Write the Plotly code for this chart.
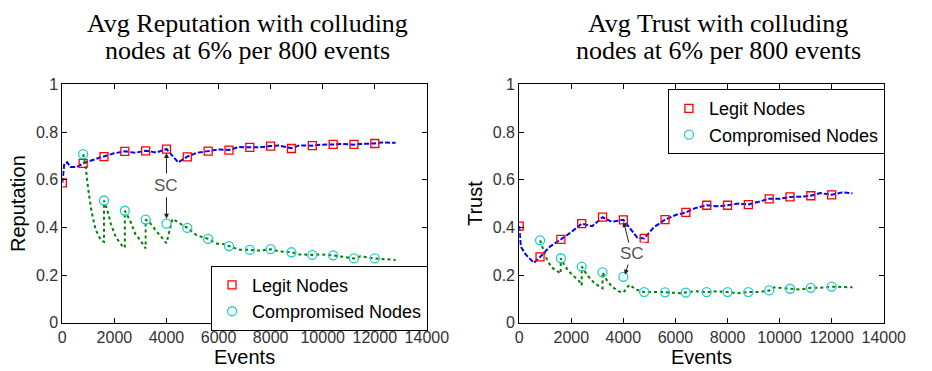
import plotly.graph_objects as go

# ---------------- data ----------------
marker_events = [0, 800, 1600, 2400, 3200, 4000, 4800, 5600, 6400, 7200, 8000,
                 8800, 9600, 10400, 11200, 12000]
comp_marker_events = marker_events[1:]

# Left panel: Reputation
rep_legit_markers = [0.587, 0.669, 0.697, 0.719, 0.721, 0.728, 0.696, 0.720, 0.724,
                     0.736, 0.741, 0.731, 0.743, 0.748, 0.748, 0.752]
rep_comp_markers = [0.707, 0.513, 0.470, 0.433, 0.416, 0.398, 0.352, 0.322, 0.306,
                    0.309, 0.296, 0.285, 0.283, 0.270, 0.270]

rep_legit_line_x = [0, 75, 190, 310, 560, 800, 1200, 1600, 1950, 2400, 2800, 3200,
                    3600, 4000, 4230, 4450, 4800, 5160, 5600, 6030, 6400, 6780, 7200,
                    7590, 8000, 8300, 8800, 9100, 9600, 9900, 10400, 10700, 11200,
                    11450, 12000, 12250, 12800]
rep_legit_line_y = [0.587, 0.667, 0.673, 0.653, 0.653, 0.669, 0.684, 0.699, 0.710,
                    0.719, 0.713, 0.722, 0.714, 0.729, 0.700, 0.673, 0.697, 0.713,
                    0.720, 0.727, 0.725, 0.737, 0.736, 0.736, 0.741, 0.744, 0.732,
                    0.744, 0.743, 0.747, 0.748, 0.750, 0.747, 0.750, 0.752, 0.756,
                    0.755]

rep_comp_line_x = [800, 900, 995, 1120, 1280, 1490, 1600, 1600, 1740, 1870, 2050,
                   2300, 2400, 2400, 2610, 2800, 2990, 3170, 3200, 3200, 3360, 3550,
                   3800, 3990, 4000, 4230, 4480, 4800, 5160, 5600, 5900, 6160, 6400,
                   6780, 7000, 7200, 7590, 8000, 8330, 8800, 9100, 9600, 9900, 10400,
                   10700, 11200, 11450, 12000, 12800]
rep_comp_line_y = [0.707, 0.653, 0.560, 0.467, 0.390, 0.345, 0.340, 0.513, 0.467,
                   0.413, 0.360, 0.323, 0.315, 0.470, 0.427, 0.373, 0.347, 0.318,
                   0.312, 0.433, 0.420, 0.393, 0.360, 0.336, 0.334, 0.436, 0.420,
                   0.398, 0.367, 0.352, 0.333, 0.331, 0.322, 0.307, 0.307, 0.306,
                   0.303, 0.309, 0.300, 0.296, 0.287, 0.285, 0.287, 0.283, 0.277,
                   0.270, 0.279, 0.270, 0.264]

# Right panel: Trust
tr_legit_markers = [0.406, 0.277, 0.350, 0.416, 0.443, 0.432, 0.354, 0.433, 0.463,
                    0.493, 0.493, 0.496, 0.520, 0.528, 0.533, 0.537]
tr_comp_markers = [0.346, 0.271, 0.236, 0.212, 0.193, 0.129, 0.128, 0.127, 0.129,
                   0.129, 0.129, 0.136, 0.143, 0.147, 0.152]

tr_legit_line_x = [0, 62, 250, 560, 800, 1180, 1600, 1990, 2400, 2800, 3200, 3550,
                   4000, 4290, 4540, 4800, 5160, 5600, 6030, 6400, 6730, 7200, 7570,
                   8000, 8400, 8800, 9200, 9600, 10000, 10400, 10800, 11200, 11560,
                   12000, 12400, 12800]
tr_legit_line_y = [0.406, 0.320, 0.287, 0.252, 0.276, 0.320, 0.350, 0.380, 0.416,
                   0.405, 0.443, 0.424, 0.432, 0.393, 0.357, 0.354, 0.400, 0.433,
                   0.453, 0.463, 0.480, 0.493, 0.489, 0.493, 0.500, 0.496, 0.509,
                   0.520, 0.520, 0.528, 0.529, 0.533, 0.544, 0.537, 0.547, 0.543]

tr_comp_line_x = [800, 930, 1060, 1240, 1490, 1590, 1600, 1740, 1930, 2120, 2300,
                  2400, 2400, 2610, 2860, 3110, 3200, 3200, 3360, 3550, 3800, 3990,
                  4000, 4230, 4480, 4800, 5600, 6200, 6400, 6730, 7200, 7600, 8000,
                  8400, 8800, 9200, 9600, 9800, 10400, 10800, 11200, 11560, 12000,
                  12400, 12800]
tr_comp_line_y = [0.346, 0.307, 0.267, 0.233, 0.213, 0.207, 0.271, 0.240, 0.213,
                  0.193, 0.175, 0.158, 0.236, 0.200, 0.170, 0.150, 0.145, 0.212,
                  0.180, 0.153, 0.133, 0.127, 0.127, 0.160, 0.140, 0.129, 0.129,
                  0.124, 0.127, 0.133, 0.129, 0.133, 0.129, 0.124, 0.129, 0.129,
                  0.136, 0.149, 0.143, 0.140, 0.147, 0.147, 0.152, 0.151, 0.149]

x_ticks = [0, 2000, 4000, 6000, 8000, 10000, 12000, 14000]
y_ticks = [0, 0.2, 0.4, 0.6, 0.8, 1]

legend_names = ["Legit Nodes", "Compromised Nodes"]
titles = [["Avg Reputation with colluding", "nodes at 6% per 800 events"],
          ["Avg Trust with colluding", "nodes at 6% per 800 events"]]
y_titles = ["Reputation", "Trust"]
x_title = "Events"

# ---------------- styling ----------------
W, H = 932, 371
BLUE = "#0000FF"
GREEN = "#008000"
RED = "#FF0000"
CYAN = "#22CCCC"
SANS = "Liberation Sans, Arial, sans-serif"
SERIF = "Liberation Serif, Times New Roman, serif"

fig = go.Figure()

panels = [
    dict(xa="x", ya="y", legend="legend",
         lx=rep_legit_line_x, ly=rep_legit_line_y,
         cx=rep_comp_line_x, cy=rep_comp_line_y,
         lm=rep_legit_markers, cm=rep_comp_markers),
    dict(xa="x2", ya="y2", legend="legend2",
         lx=tr_legit_line_x, ly=tr_legit_line_y,
         cx=tr_comp_line_x, cy=tr_comp_line_y,
         lm=tr_legit_markers, cm=tr_comp_markers),
]

for p in panels:
    fig.add_trace(go.Scatter(x=p["lx"], y=p["ly"], mode="lines",
                             line=dict(color=BLUE, width=2, dash="5px,2px"),
                             xaxis=p["xa"], yaxis=p["ya"], showlegend=False,
                             hoverinfo="skip"))
    fig.add_trace(go.Scatter(x=p["cx"], y=p["cy"], mode="lines",
                             line=dict(color=GREEN, width=2, dash="dot"),
                             xaxis=p["xa"], yaxis=p["ya"], showlegend=False,
                             hoverinfo="skip"))
    fig.add_trace(go.Scatter(x=marker_events, y=p["lm"], mode="markers",
                             name=legend_names[0],
                             marker=dict(symbol="square-open", size=8, color=RED,
                                         line=dict(width=1.3, color=RED)),
                             xaxis=p["xa"], yaxis=p["ya"], legend=p["legend"]))
    fig.add_trace(go.Scatter(x=comp_marker_events, y=p["cm"], mode="markers",
                             name=legend_names[1],
                             marker=dict(symbol="circle-open", size=9, color=CYAN,
                                         line=dict(width=1.3, color=CYAN)),
                             xaxis=p["xa"], yaxis=p["ya"], legend=p["legend"]))

ytop, ybot = 80, 330
doms = [(60, 435), (530, 905)]

axis_common = dict(
    showline=True, linecolor="black", linewidth=1, mirror="ticks",
    ticks="inside", ticklen=5, tickwidth=1, tickcolor="black",
    showgrid=False, zeroline=False,
    tickfont=dict(family=SANS, size=16, color="#333333"),
)

for i, (x0, x1) in enumerate(doms):
    sfx = "" if i == 0 else str(i + 1)
    fig.layout["xaxis" + sfx] = dict(
        axis_common, domain=[x0 / W, x1 / W], range=[0, 14000],
        tickvals=x_ticks, tickformat="d", anchor="y" + sfx,
        title=dict(text=x_title, font=dict(family=SANS, size=20, color="black"),
                   standoff=4),
    )
    fig.layout["yaxis" + sfx] = dict(
        axis_common, domain=[1 - ybot / H, 1 - ytop / H], range=[0, 1],
        tickvals=y_ticks, anchor="x" + sfx,
        title=dict(text=y_titles[i], font=dict(family=SANS, size=20, color="black"),
                   standoff=4),
    )

annotations = []
title_centers = [251, 735]
for i, c in enumerate(title_centers):
    for j, line in enumerate(titles[i]):
        annotations.append(dict(
            text=line, xref="paper", yref="paper", x=c / W, y=1 - (16 + 29 * j) / H,
            xanchor="center", yanchor="middle", showarrow=False,
            font=dict(family=SERIF, size=26, color="black")))

annotations += [
    dict(x=4000, y=0.712, ax=4000, ay=0.62, xref="x", yref="y", axref="x", ayref="y",
         text="", showarrow=True, arrowhead=2, arrowsize=1, arrowwidth=1,
         arrowcolor="#222222"),
    dict(x=4000, y=0.436, ax=4000, ay=0.533, xref="x", yref="y", axref="x", ayref="y",
         text="", showarrow=True, arrowhead=2, arrowsize=1, arrowwidth=1,
         arrowcolor="#222222"),
    dict(x=4000, y=0.575, xref="x", yref="y", text="SC", showarrow=False,
         font=dict(family=SANS, size=17, color="#555555"), bgcolor="white"),
    dict(x=4010, y=0.423, ax=4230, ay=0.327, xref="x2", yref="y2", axref="x2",
         ayref="y2", text="", showarrow=True, arrowhead=2, arrowsize=1,
         arrowwidth=1, arrowcolor="#222222"),
    dict(x=4060, y=0.202, ax=4230, ay=0.262, xref="x2", yref="y2", axref="x2",
         ayref="y2", text="", showarrow=True, arrowhead=2, arrowsize=1,
         arrowwidth=1, arrowcolor="#222222"),
    dict(x=4330, y=0.292, xref="x2", yref="y2", text="SC", showarrow=False,
         font=dict(family=SANS, size=17, color="#555555"), bgcolor="white"),
]

legend_common = dict(bordercolor="black", borderwidth=1, bgcolor="white",
                     font=dict(family=SANS, size=18, color="black"),
                     itemwidth=30, tracegroupgap=0, xanchor="left", yanchor="top")

fig.update_layout(
    width=W, height=H, margin=dict(l=0, r=0, t=0, b=0),
    paper_bgcolor="white", plot_bgcolor="white",
    annotations=annotations,
    legend=dict(legend_common, x=213 / W, y=1 - 270 / H),
    legend2=dict(legend_common, x=683 / W, y=1 - 85 / H),
)

fig.write_html("out.html")
